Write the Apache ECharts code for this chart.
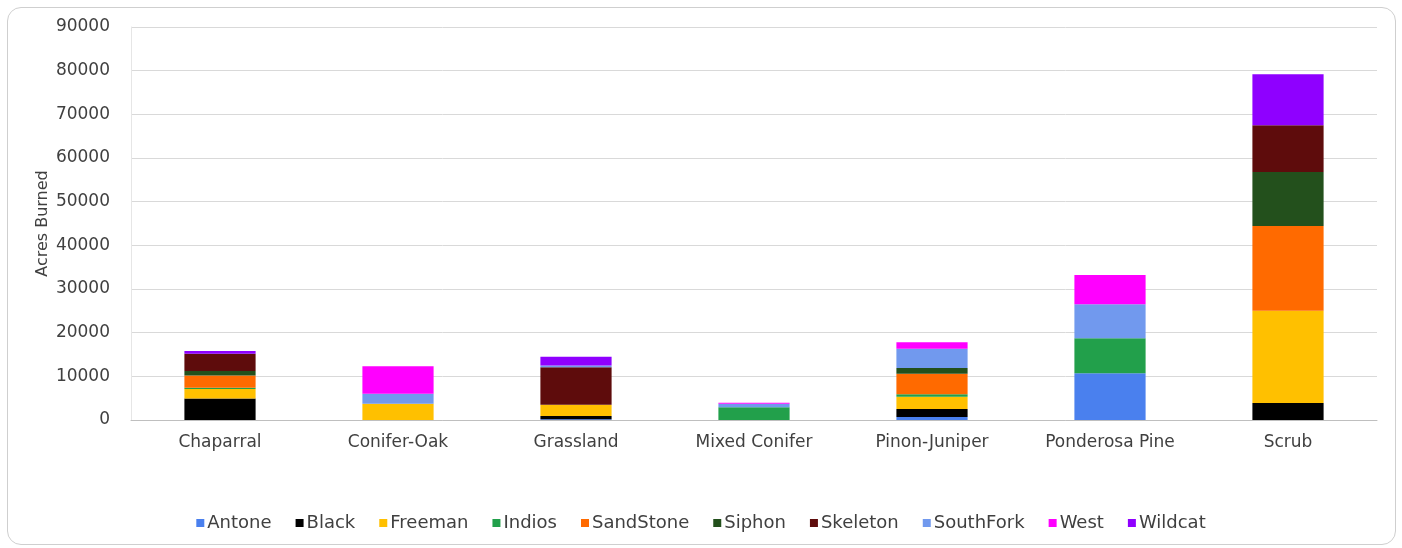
<!DOCTYPE html>
<html>
<head>
<meta charset="utf-8">
<script src="https://cdn.jsdelivr.net/npm/echarts@6/dist/echarts.min.js"></script>
<style>
  html, body { margin: 0; padding: 0; background: #ffffff; }
  #frame {
    position: absolute; left: 7px; top: 7px; width: 1389px; height: 538px;
    border: 1px solid #cfcfcf; border-radius: 14px; box-sizing: border-box;
  }
  #chart { position: absolute; left: 0; top: 0; width: 1402px; height: 548px; }
</style>
</head>
<body>
<div id="frame"></div>
<div id="chart"></div>
<script>
// Vegetation types burned, acres by fire
const categories = ['Chaparral', 'Conifer-Oak', 'Grassland', 'Mixed Conifer', 'Pinon-Juniper', 'Ponderosa Pine', 'Scrub'];

const fireNames = ['Antone', 'Black', 'Freeman', 'Indios', 'SandStone', 'Siphon', 'Skeleton', 'SouthFork', 'West', 'Wildcat'];

const antone    = [0,    0,    200,  0,    700,  10700, 0];
const black     = [4900, 0,    700,  0,    1800, 0,     3900];
const freeman   = [2200, 3700, 2600, 0,    2800, 0,     21100];
const indios    = [300,  0,    0,    2900, 600,  8000,  0];
const sandStone = [2800, 0,    0,    0,    4700, 0,     19400];
const siphon    = [1000, 0,    0,    0,    1300, 0,     12400];
const skeleton  = [4000, 0,    8600, 0,    0,    0,     10700];
const southFork = [0,    2300, 400,  800,  4400, 7800,  0];
const west      = [0,    6300, 0,    250,  1500, 6700,  0];
const wildcat   = [600,  0,    2000, 0,    0,    0,     11700];

const fireValues = [antone, black, freeman, indios, sandStone, siphon, skeleton, southFork, west, wildcat];
const fireColors = ['#4a80ee', '#000000', '#ffc000', '#22a04b', '#ff6a00', '#23501c', '#5e0c0c', '#7199ee', '#ff00ff', '#8f00ff'];

const yTicks = { min: 0, max: 90000, interval: 10000 };

const FONT = '"DejaVu Sans", "Liberation Sans", sans-serif';
const TEXT = '#404040';

const chart = echarts.init(document.getElementById('chart'), null, { renderer: 'canvas' });

chart.setOption({
  animation: false,
  backgroundColor: 'transparent',
  grid: { left: 131, right: 25, top: 27, bottom: 128, containLabel: false },
  legend: {
    bottom: 11,
    left: 'center',
    icon: 'rect',
    itemWidth: 8,
    itemHeight: 8,
    itemGap: 24,
    textStyle: { fontFamily: FONT, fontSize: 18, color: TEXT, padding: [0, 0, 0, -2] },
    data: fireNames
  },
  xAxis: {
    type: 'category',
    data: categories,
    axisTick: { show: false },
    axisLine: { lineStyle: { color: '#bfbfbf', width: 1 } },
    axisLabel: { fontFamily: FONT, fontSize: 17, color: TEXT, margin: 14 }
  },
  yAxis: {
    type: 'value',
    min: yTicks.min,
    max: yTicks.max,
    interval: yTicks.interval,
    name: 'Acres Burned',
    nameLocation: 'middle',
    nameGap: 80,
    nameMoveOverlap: false,
    nameTextStyle: { fontFamily: FONT, fontSize: 16, color: TEXT },
    axisLine: { show: true, lineStyle: { color: '#e6e6e6' } },
    axisTick: { show: false },
    splitLine: { lineStyle: { color: '#d9d9d9', width: 1 } },
    axisLabel: {
      fontFamily: FONT, fontSize: 17, color: TEXT, margin: 21,
      formatter: v => String(v)
    }
  },
  series: fireNames.map((name, i) => ({
    name: name,
    type: 'bar',
    stack: 'acres',
    barWidth: '40%',
    itemStyle: { color: fireColors[i] },
    data: fireValues[i]
  }))
});
</script>
</body>
</html>
